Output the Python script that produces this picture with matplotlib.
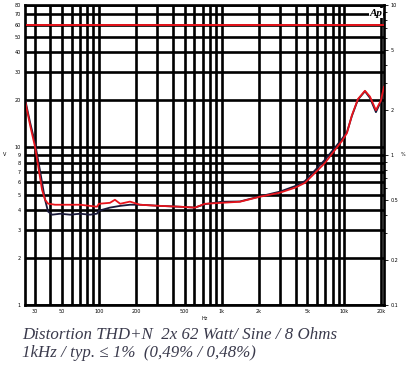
import numpy as np
import matplotlib
matplotlib.use("Agg")
import matplotlib.pyplot as plt
from matplotlib.ticker import FixedLocator, NullFormatter

# frequency axis (Hz) and THD+N readings (%) for both channels
freq_red = [25, 27.5, 30.2, 31.9, 34.4, 36.4, 38.5, 43.9, 52.9, 70.2, 84.6, 96.4,
            100, 123, 135, 149, 179, 216, 314, 457, 605, 731, 1005, 1409, 2050,
            2985, 3955, 4767, 5750, 6936, 8370, 9545, 10480, 11500, 12880,
            14690, 16140, 18050, 19820, 21000]
thd_red = [2.31, 1.58, 1.13, 0.859, 0.587, 0.504, 0.474, 0.466, 0.466, 0.466,
           0.458, 0.452, 0.473, 0.48, 0.503, 0.473, 0.489, 0.466, 0.458, 0.452,
           0.446, 0.473, 0.48, 0.488, 0.527, 0.561, 0.605, 0.652, 0.759, 0.885,
           1.08, 1.24, 1.40, 1.84, 2.36, 2.68, 2.45, 1.99, 2.31, 2.85]

freq_blk = [25, 27.5, 30.2, 33.1, 36.4, 38.5, 41.6, 48.5, 58.3, 70.2, 84.6, 96.4,
            100, 123, 149, 179, 216, 314, 457, 605, 731, 1005, 1409, 2050,
            2985, 3955, 4767, 5750, 6936, 8370, 9545, 10480, 11500, 12880,
            14690, 16140, 18050, 19820, 21000]
thd_blk = [2.37, 1.65, 1.2, 0.79, 0.504, 0.42, 0.40, 0.406, 0.40, 0.406, 0.40,
           0.406, 0.425, 0.446, 0.458, 0.466, 0.466, 0.458, 0.452, 0.446, 0.47,
           0.488, 0.49, 0.53, 0.57, 0.62, 0.67, 0.79, 0.93, 1.12, 1.28, 1.42,
           1.82, 2.34, 2.66, 2.40, 1.93, 2.28, 2.82]

# flat reference trace, read against the left scale
freq_ref = [25, 21000]
level_ref = [60, 60]

x_ticks = [30, 50, 100, 200, 500, 1000, 2000, 5000, 10000, 20000]
x_labels = ["30", "50", "100", "200", "500", "1k", "2k", "5k", "10k", "20k"]
x_grid = [30, 40, 50, 60, 70, 80, 90, 100, 200, 300, 400, 500, 600, 700, 800, 900,
          1000, 2000, 3000, 4000, 5000, 6000, 7000, 8000, 9000, 10000, 20000]
left_ticks = [1, 2, 3, 4, 5, 6, 7, 8, 9, 10, 20, 30, 40, 50, 60, 70, 80]
right_ticks = [0.1, 0.2, 0.5, 1, 2, 5, 10]
right_labels = ["0.1", "0.2", "0.5", "1", "2", "5", "10"]
right_minor = [0.3, 0.4, 0.6, 0.7, 0.8, 0.9, 3, 4, 6, 7, 8, 9]

fig = plt.figure(figsize=(4.12, 3.74), dpi=100)
ax = fig.add_axes([25 / 412, 69 / 374, 359 / 412, 300 / 374])

ax.set_xscale("log")
ax.set_yscale("log")
ax.set_xlim(25, 21000)
ax.set_ylim(1, 80)

for f in x_grid:
    ax.axvline(f, color="black", lw=1.9, zorder=1)
for v in left_ticks:
    ax.axhline(v, color="black", lw=1.9, zorder=1)

ax.plot(freq_ref, level_ref, color="#e8141c", lw=1.4, zorder=3)

ax.xaxis.set_major_locator(FixedLocator(x_ticks))
ax.set_xticklabels(x_labels)
ax.yaxis.set_major_locator(FixedLocator(left_ticks))
ax.set_yticklabels([str(v) for v in left_ticks])
ax.minorticks_off()
ax.tick_params(which="both", length=0, labelsize=3.5, pad=3)
for s in ax.spines.values():
    s.set_linewidth(1.9)

ax2 = ax.twinx()
ax2.set_yscale("log")
ax2.set_ylim(0.1, 10)
ax2.plot(freq_blk, thd_blk, color="#1a1a3a", lw=1.3)
ax2.plot(freq_red, thd_red, color="#e8141c", lw=1.3)
ax2.yaxis.set_major_locator(FixedLocator(right_ticks))
ax2.set_yticklabels(right_labels)
ax2.yaxis.set_minor_locator(FixedLocator(right_minor))
ax2.yaxis.set_minor_formatter(NullFormatter())
ax2.tick_params(which="major", length=3, width=0.6, labelsize=3.5, pad=1.5)
ax2.tick_params(which="minor", length=2, width=0.6)

fig.text(5 / 412, 1 - 155 / 374, "V", fontsize=3.5, ha="center", va="center")
fig.text(403 / 412, 1 - 155 / 374, "%", fontsize=3.5, ha="center", va="center")
fig.text(205 / 412, 1 - 319 / 374, "Hz", fontsize=3.5, ha="center", va="center")
fig.text(376 / 412, 1 - 13 / 374, "Ap", fontsize=8, fontweight="bold", style="italic",
         family="Liberation Serif", ha="center", va="center", zorder=5,
         bbox=dict(facecolor="white", edgecolor="none", pad=0.3))

cap_kw = dict(family="Liberation Serif", style="italic", fontsize=12.2, color="#3a3a4c")
fig.text(22 / 412, 1 - 339 / 374, "Distortion THD+N  2x 62 Watt/ Sine / 8 Ohms", **cap_kw)
fig.text(22 / 412, 1 - 357 / 374, "1kHz / typ. \u2264 1%  (0,49% / 0,48%)", **cap_kw)

fig.savefig("out.png", dpi=100)
